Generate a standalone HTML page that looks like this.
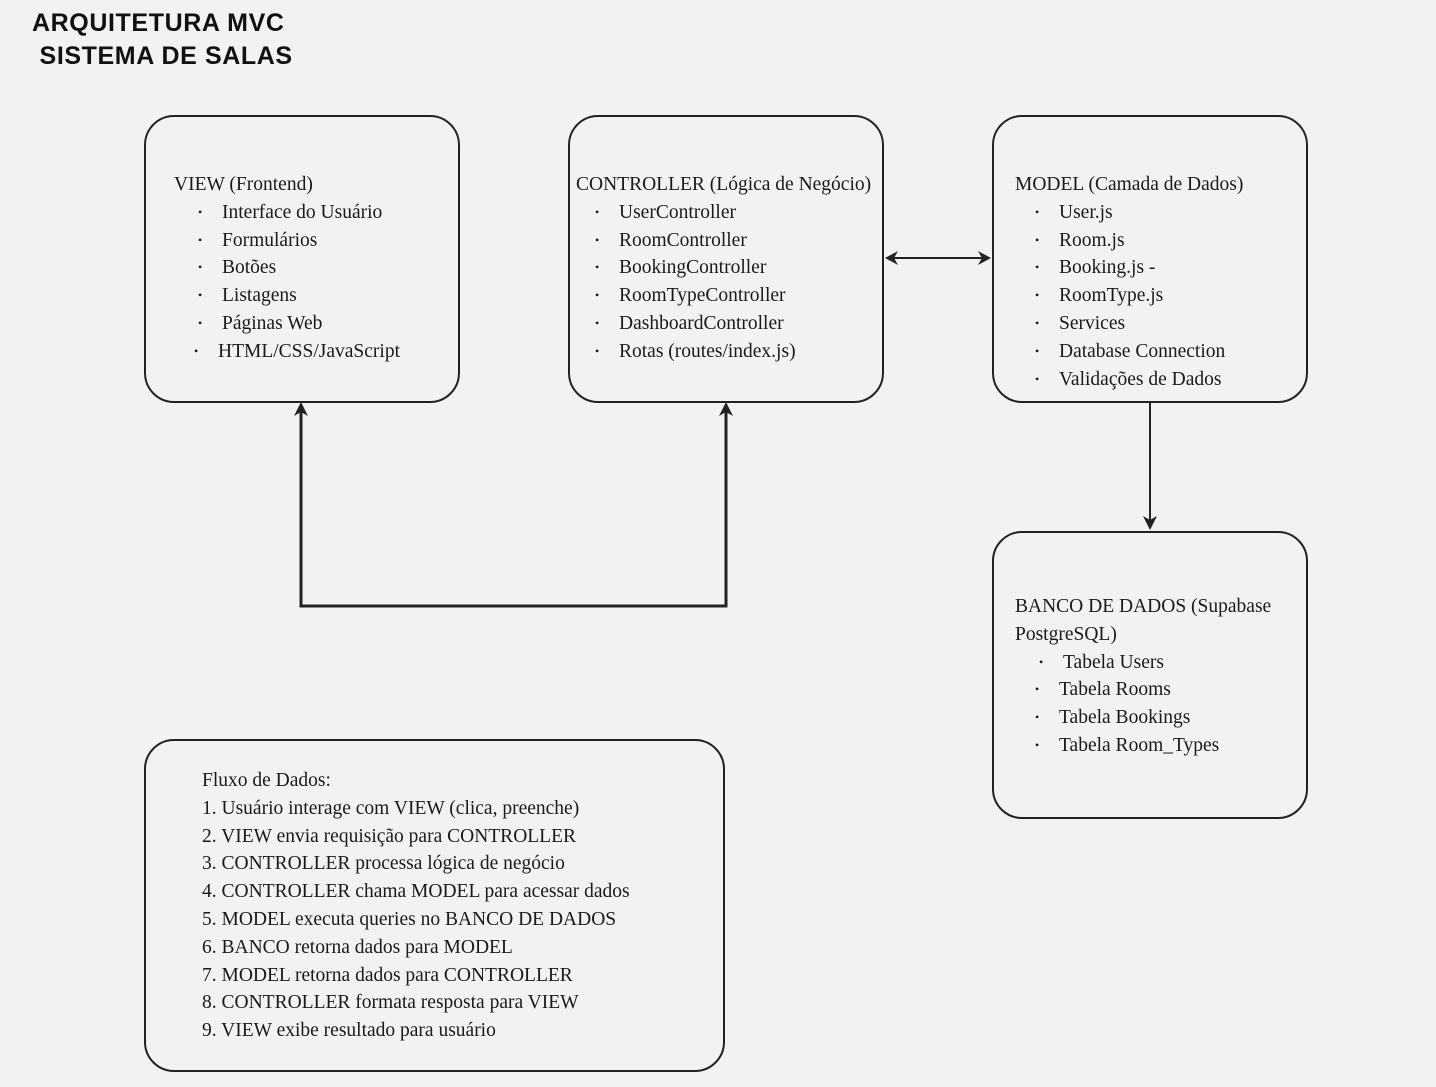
<!DOCTYPE html>
<html><head><meta charset="utf-8"><style>
body{margin:0;background:#f2f2f2;width:1436px;height:1087px;overflow:hidden;position:relative;font-family:"Liberation Serif",serif;color:#1a1a1a}
.title{position:absolute;left:32px;top:7px;font-family:"Liberation Sans",sans-serif;font-weight:bold;font-size:25px;line-height:33px;color:#111;letter-spacing:0.6px}
.box{position:absolute;border:2px solid #222;border-radius:30px;box-sizing:border-box}
.t{position:absolute;font-size:19.5px;line-height:27.8px;white-space:nowrap;letter-spacing:0}
.b{position:relative}
.b:before{content:"•";position:absolute;left:-24px;font-size:12px}
</style></head><body>
<div class="title">ARQUITETURA MVC<br>&nbsp;SISTEMA DE SALAS</div>

<div class="box" style="left:144px;top:115px;width:316px;height:288px"></div>
<div class="box" style="left:568px;top:115px;width:316px;height:288px"></div>
<div class="box" style="left:992px;top:115px;width:316px;height:288px"></div>
<div class="box" style="left:992px;top:531px;width:316px;height:288px"></div>
<div class="box" style="left:144px;top:739px;width:581px;height:333px"></div>

<div class="t" style="left:174px;top:171px">VIEW (Frontend)
<div class="b" style="left:48px">Interface do Usuário</div>
<div class="b" style="left:48px">Formulários</div>
<div class="b" style="left:48px">Botões</div>
<div class="b" style="left:48px">Listagens</div>
<div class="b" style="left:48px">Páginas Web</div>
<div class="b" style="left:44px">HTML/CSS/JavaScript</div>
</div>

<div class="t" style="left:576px;top:171px">CONTROLLER (Lógica de Negócio)
<div class="b" style="left:43px">UserController</div>
<div class="b" style="left:43px">RoomController</div>
<div class="b" style="left:43px">BookingController</div>
<div class="b" style="left:43px">RoomTypeController</div>
<div class="b" style="left:43px">DashboardController</div>
<div class="b" style="left:43px">Rotas (routes/index.js)</div>
</div>

<div class="t" style="left:1015px;top:171px">MODEL (Camada de Dados)
<div class="b" style="left:44px">User.js</div>
<div class="b" style="left:44px">Room.js</div>
<div class="b" style="left:44px">Booking.js -</div>
<div class="b" style="left:44px">RoomType.js</div>
<div class="b" style="left:44px">Services</div>
<div class="b" style="left:44px">Database Connection</div>
<div class="b" style="left:44px">Validações de Dados</div>
</div>

<div class="t" style="left:1015px;top:593px">BANCO DE DADOS (Supabase<br>PostgreSQL)
<div class="b" style="left:48px">Tabela Users</div>
<div class="b" style="left:44px">Tabela Rooms</div>
<div class="b" style="left:44px">Tabela Bookings</div>
<div class="b" style="left:44px">Tabela Room_Types</div>
</div>

<div class="t" style="left:202px;top:767px">Fluxo de Dados:<br>1. Usuário interage com VIEW (clica, preenche)<br>2. VIEW envia requisição para CONTROLLER<br>3. CONTROLLER processa lógica de negócio<br>4. CONTROLLER chama MODEL para acessar dados<br>5. MODEL executa queries no BANCO DE DADOS<br>6. BANCO retorna dados para MODEL<br>7. MODEL retorna dados para CONTROLLER<br>8. CONTROLLER formata resposta para VIEW<br>9. VIEW exibe resultado para usuário</div>

<svg style="position:absolute;left:0;top:0" width="1436" height="1087">
<g stroke="#222" fill="none">
<polyline points="301,410 301,606 726,606 726,410" stroke-width="3"/>
<line x1="893" y1="258" x2="982" y2="258" stroke-width="2"/>
<line x1="1150" y1="403" x2="1150" y2="520" stroke-width="2"/>
</g>
<g fill="#222">
<polygon points="301,402 294,416 301,412 308,416"/>
<polygon points="726,402 719,416 726,412 733,416"/>
<polygon points="885,258 898,251 894,258 898,265"/>
<polygon points="991,258 978,251 982,258 978,265"/>
<polygon points="1150,530 1143,516 1150,520 1157,516"/>
</g>
</svg>
</body></html>
